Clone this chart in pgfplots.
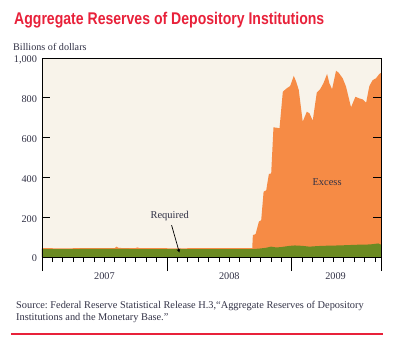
\documentclass[border=0pt]{standalone}
\usepackage{pgfplots}
\pgfplotsset{compat=1.18}
\usepackage{fontspec}
\setmainfont{Liberation Serif}
\newfontfamily\titlefont[FakeStretch=0.83]{Liberation Sans}
\definecolor{bgc}{RGB}{248,243,234}
\definecolor{orc}{RGB}{246,139,69}
\definecolor{grc}{RGB}{107,138,35}
\definecolor{redc}{RGB}{232,33,58}
\definecolor{txc}{RGB}{50,50,70}
\pgfplotstableread[row sep=\\]{
x y\\
0 44\\ 1 44\\ 2 43\\ 3 44\\ 4 44\\ 5 44\\ 6 44\\ 7 45\\ 7.15 52\\ 7.35 46\\ 8 44\\ 9 45\\ 9.15 48\\ 9.35 45\\
10 44\\ 11 44\\ 12 44\\ 13 43\\ 14 44\\ 15 44\\ 16 44\\ 17 44\\ 18 44\\ 19 45\\ 20.2 45\\
20.26 110\\ 20.52 115\\ 20.84 178\\ 21.06 185\\ 21.29 328\\ 21.54 335\\ 21.80 417\\ 22.02 420\\
22.24 652\\ 22.82 647\\ 23.14 831\\ 23.52 848\\ 23.84 859\\ 24.19 910\\ 24.42 881\\ 24.67 839\\
25.05 680\\ 25.44 730\\ 25.70 722\\ 26.01 685\\ 26.40 826\\ 26.72 843\\ 27.04 873\\ 27.39 920\\
27.61 873\\ 27.87 843\\ 28.25 936\\ 28.50 926\\ 28.89 898\\ 29.21 856\\ 29.69 752\\ 30.11 805\\
30.49 797\\ 30.81 792\\ 31.14 775\\ 31.45 859\\ 31.77 889\\ 32.09 898\\ 32.41 920\\ 32.57 925\\
}\totaltab
\pgfplotstableread[row sep=\\]{
x y\\
0 40\\ 3 40\\ 6 41\\ 9 40\\ 12 40\\ 15 40\\ 18 40\\ 20 40\\ 20.26 40\\ 20.8 42\\ 21.5 46\\
22.0 52\\ 22.5 48\\ 23 50\\ 23.8 56\\ 24.3 58\\ 25 56\\ 25.7 52\\ 26.5 55\\ 27.5 57\\ 28.5 58\\
29.5 60\\ 30.5 62\\ 31.5 63\\ 32.0 66\\ 32.3 68\\ 32.57 62\\
}\reqtab
\begin{document}
\begin{tikzpicture}[x=1bp,y=1bp]
\useasboundingbox (-42,-93) rectangle (355,257);
\begin{axis}[at={(0,0)},anchor=south west, scale only axis,
  width=339bp, height=199bp,
  xmin=0, xmax=32.57, ymin=0, ymax=1000,
  xtick=\empty, ytick={0,200,400,600,800,1000},
  yticklabel pos=left, tick align=inside, major tick length=8bp,
  axis background/.style={fill=bgc}, axis on top,
  axis line style={line width=0.8bp},
  tick style={line width=0.8bp, black},
  ticklabel style={font=\fontsize{10.3}{12}\selectfont, text=txc},
  /pgf/number format/assume math mode=true,
  yticklabel style={xshift=-1.5bp, yshift=-1.5bp},
  clip=false]
\addplot[fill=orc, draw=none] table[x=x,y=y] {\totaltab} \closedcycle;
\addplot[fill=grc, draw=none] table[x=x,y=y] {\reqtab} \closedcycle;
\node[anchor=base, font=\fontsize{10.5}{12}\selectfont, text=txc] at (axis cs:12.27,191) {Required};
\node[anchor=base, font=\fontsize{10.5}{12}\selectfont, text=txc] at (axis cs:27.39,357) {Excess};
\draw[-stealth, line width=0.7bp, black] (axis cs:12.45,160) -- (axis cs:13.2,22);
\end{axis}
\begin{axis}[at={(0,0)},anchor=south west, scale only axis,
  width=339bp, height=199bp,
  xmin=0, xmax=32.57, ymin=0, ymax=1000,
  ytick=\empty, axis line style={draw=none},
  xtick={0,12,24,32.57}, xticklabels={},
  minor xtick={1,2,...,11,13,14,...,23,25,26,...,32},
  xtick pos=bottom, tick align=outside,
  major tick length=14bp, minor tick length=5bp,
  tick style={line width=0.8bp, black},
  ticklabel style={font=\fontsize{10.3}{12}\selectfont, text=txc},
  extra x ticks={6,18,28.2}, extra x tick labels={2007,2008,2009},
  extra x tick style={major tick length=0pt, tick label style={yshift=-12.5bp}}]
\end{axis}
\node[anchor=base west, text=redc, font=\titlefont\bfseries\fontsize{17}{20}\selectfont, inner sep=0pt] at (-28,233) {Aggregate Reserves of Depository Institutions};
\node[anchor=base west, text=txc, font=\fontsize{10.2}{12}\selectfont, inner sep=0pt] at (-29,206.8) {Billions of dollars};
\node[anchor=base west, text=txc, font=\fontsize{10.4}{12}\selectfont\frenchspacing, inner sep=0pt] at (-26,-51.3) {Source: Federal Reserve Statistical Release H.3,“Aggregate Reserves of Depository};
\node[anchor=base west, text=txc, font=\fontsize{10.4}{12}\selectfont\frenchspacing, inner sep=0pt] at (-26,-63.5) {Institutions and the Monetary Base.”};
\draw[redc, line width=2bp] (-31,-77) -- (341,-77);
\end{tikzpicture}
\end{document}
